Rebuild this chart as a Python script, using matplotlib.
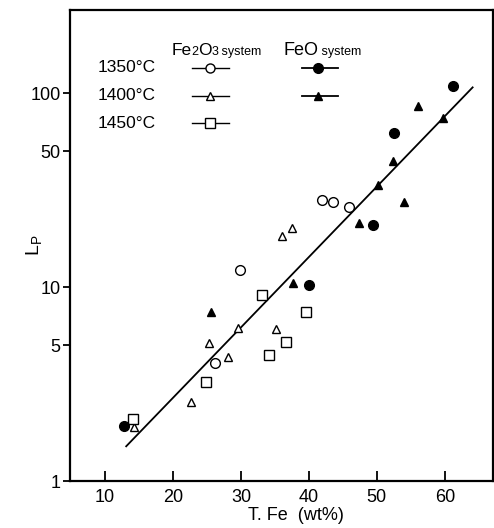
import numpy as np
import matplotlib
matplotlib.use('Agg')
from matplotlib import pyplot as plt
from matplotlib.transforms import offset_copy

plt.rcParams['font.family'] = ['Liberation Sans', 'DejaVu Sans']

# Fe2O3 system (open symbols)
fe2o3_1350_x = [41.9, 43.5, 45.9, 29.9, 26.2]
fe2o3_1350_y = [28.1, 27.4, 25.9, 12.2, 4.06]
fe2o3_1400_x = [37.5, 36.1, 29.6, 35.1, 25.3, 28.1, 22.6, 14.2]
fe2o3_1400_y = [20.1, 18.3, 6.15, 6.07, 5.14, 4.36, 2.55, 1.90]
fe2o3_1450_x = [33.1, 39.6, 36.6, 34.1, 24.8, 14.1]
fe2o3_1450_y = [9.09, 7.43, 5.21, 4.46, 3.24, 2.09]

# FeO system (filled symbols)
feo_1350_x = [61.2, 52.5, 49.4, 40.0, 12.8]
feo_1350_y = [108.7, 62.2, 20.9, 10.2, 1.92]
feo_1400_x = [56.0, 59.7, 52.4, 50.1, 54.0, 47.4, 37.6, 25.6]
feo_1400_y = [85.7, 74.3, 44.6, 33.6, 27.4, 21.4, 10.5, 7.43]

# regression line end points
fit_x = [13.1, 64.1]
fit_y = [1.51, 107.0]

xticks = [10, 20, 30, 40, 50, 60]
yticks = [1, 5, 10, 50, 100]

fig = plt.figure(figsize=(4.94, 5.28), dpi=100)
ax = fig.add_axes([0.142, 0.089, 0.856, 0.892])

ax.plot(fit_x, fit_y, color='black', lw=1.3)
ax.plot(fe2o3_1350_x, fe2o3_1350_y, 'o', ms=7, mfc='white', mec='black', mew=1.0, ls='none')
ax.plot(fe2o3_1400_x, fe2o3_1400_y, '^', ms=6, mfc='white', mec='black', mew=1.0, ls='none')
ax.plot(fe2o3_1450_x, fe2o3_1450_y, 's', ms=7, mfc='white', mec='black', mew=1.0, ls='none')
ax.plot(feo_1350_x, feo_1350_y, 'o', ms=7, color='black', ls='none')
ax.plot(feo_1400_x, feo_1400_y, '^', ms=6, color='black', ls='none')

ax.set_yscale('log')
ax.set_xlim(4.85, 67.1)
ax.set_ylim(1, 268)
ax.set_xticks(xticks)
ax.set_xticklabels([str(t) for t in xticks])
ax.set_yticks(yticks)
ax.set_yticklabels([str(t) for t in yticks])
ax.minorticks_off()
ax.tick_params(axis='x', direction='in', length=7, width=1.3, labelsize=13, pad=6)
ax.tick_params(axis='y', direction='out', length=5, width=1.3, labelsize=13, pad=2)
for s in ax.spines.values():
    s.set_linewidth(1.6)

ax.set_xlabel('T. Fe  (wt%)', fontsize=13, labelpad=1)
ax.xaxis.set_label_coords(0.535, -0.055)
ax.set_ylabel(r'L$_\mathregular{P}$', fontsize=14, labelpad=8)
ax.yaxis.set_label_coords(-0.06, 0.5)

# legend drawn by hand
rows = [(0.877, 'o', '1350°C', True), (0.818, '^', '1400°C', True), (0.760, 's', '1450°C', False)]
for fy, m, lab, has_feo in rows:
    ax.text(0.064, fy, lab, transform=ax.transAxes, fontsize=12.5, va='center')
    ax.plot([0.288, 0.375], [fy, fy], color='black', lw=1.0, transform=ax.transAxes, clip_on=False)
    ax.plot([0.331], [fy], m, ms=6.5 if m != '^' else 5.5, mfc='white', mec='black', mew=1.0,
            transform=ax.transAxes, clip_on=False)
    if has_feo:
        ax.plot([0.548, 0.634], [fy, fy], color='black', lw=1.3, transform=ax.transAxes, clip_on=False)
        ax.plot([0.586], [fy], m, ms=7 if m == 'o' else 5.5, color='black',
                transform=ax.transAxes, clip_on=False)

renderer = fig.canvas.get_renderer()


def pieces(x, y, parts):
    t = ax.transAxes
    dx = 0
    for s, fs in parts:
        tx = ax.text(x, y, s, fontsize=fs, va='baseline', ha='left',
                     transform=offset_copy(t, fig=fig, x=dx, y=0, units='dots'))
        dx += tx.get_window_extent(renderer).width - 0.5


pieces(0.241, 0.905, [('Fe', 12.5), ('2', 9), ('O', 12.5), ('3', 9), (' system', 9)])
pieces(0.504, 0.905, [('FeO', 13), (' system', 9)])

fig.savefig('out.png', dpi=100)
